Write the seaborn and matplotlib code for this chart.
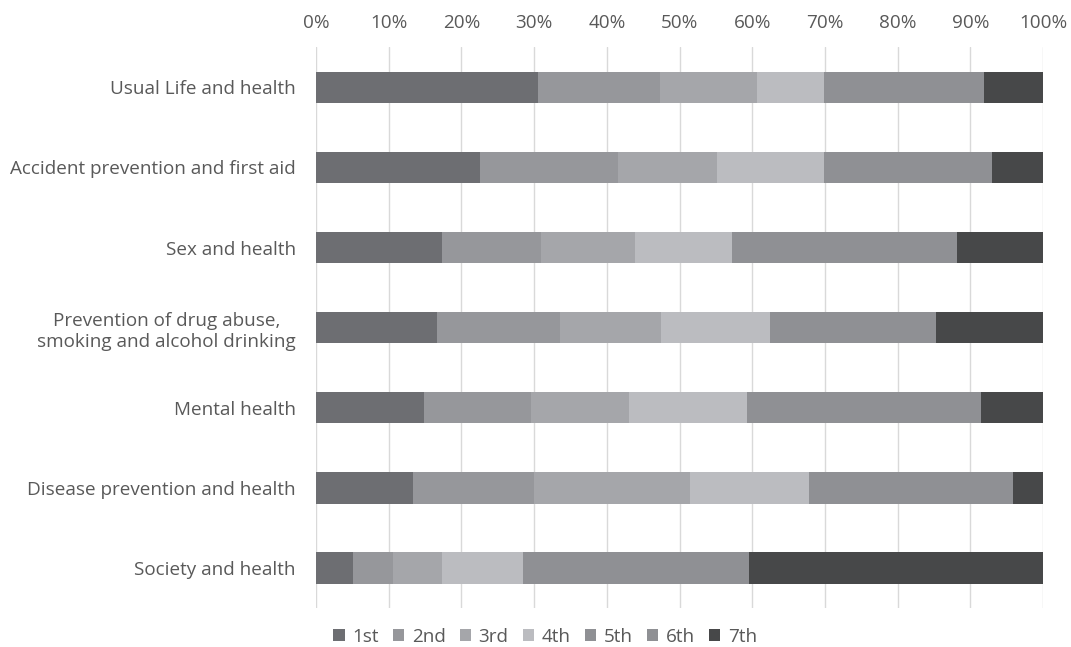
import numpy as np
import pandas as pd
import matplotlib
matplotlib.use("Agg")
import matplotlib.pyplot as plt
from matplotlib.patches import Patch
import seaborn as sns

# Topics (top to bottom) and share of each rank, in percent
topics = [
    "Usual Life and health",
    "Accident prevention and first aid",
    "Sex and health",
    "Prevention of drug abuse,\nsmoking and alcohol drinking",
    "Mental health",
    "Disease prevention and health",
    "Society and health",
]
ranks = ["1st", "2nd", "3rd", "4th", "5th", "6th", "7th"]

rank_1st = [30.6, 22.6, 17.3, 16.7, 14.8, 13.3, 5.1]
rank_2nd = [16.7, 18.9, 13.7, 16.8, 14.8, 16.7, 5.5]
rank_3rd = [13.4, 13.7, 12.9, 14.0, 13.5, 21.5, 6.8]
rank_4th = [9.1, 14.7, 13.3, 14.9, 16.2, 16.3, 11.1]
rank_5th = [10.2, 10.1, 15.5, 11.4, 16.0, 14.0, 11.6]
rank_6th = [11.8, 12.9, 15.4, 11.4, 16.1, 14.1, 19.4]
rank_7th = [8.2, 7.1, 11.9, 14.8, 8.6, 4.1, 40.5]

colors = ["#6d6e72", "#96979b", "#a5a6aa", "#bbbcc0", "#8f9094", "#8f9094", "#474849"]

series = [rank_1st, rank_2nd, rank_3rd, rank_4th, rank_5th, rank_6th, rank_7th]
values = np.array(series, dtype=float)
shares = values / values.sum(axis=0) * 100
cumulative = np.cumsum(shares, axis=0)

df = pd.DataFrame({"topic": topics})
for i, r in enumerate(ranks):
    df[r] = cumulative[i]

sns.set_theme(style="white")
plt.rcParams["font.family"] = ["Open Sans", "DejaVu Sans"]

fs = 13.6
fig = plt.figure(figsize=(10.71, 6.47), dpi=100)
ax = fig.add_axes([0.295, 0.060, 0.679, 0.867])

# Stacked bars: draw the running totals from the last rank backward
for i in range(len(ranks) - 1, -1, -1):
    sns.barplot(data=df, x=ranks[i], y="topic", orient="h", color=colors[i],
                width=0.39, saturation=1, linewidth=0, ax=ax, zorder=2)

ax.set_xlim(0, 100)
ax.set_xticks(np.arange(0, 101, 10))
ax.set_xticklabels([f"{v}%" for v in range(0, 101, 10)])
ax.xaxis.tick_top()
ax.set_xlabel("")
ax.set_ylabel("")
ax.grid(axis="x", color="#d9d9d9", linewidth=1, zorder=0)
ax.set_axisbelow(True)
for s in ax.spines.values():
    s.set_visible(False)

ax.tick_params(axis="x", length=0, pad=11, labelsize=fs, labelcolor="#595959")
ax.tick_params(axis="y", length=0, pad=14.5, labelsize=fs, labelcolor="#595959")
for lbl in ax.get_yticklabels():
    lbl.set_multialignment("center")

handles = [Patch(facecolor=c, edgecolor="none") for c in colors]
fig.legend(handles, ranks, loc="center", bbox_to_anchor=(0.509, 0.016), ncol=7,
           frameon=False, fontsize=fs, labelcolor="#595959",
           handlelength=0.6, handleheight=0.6, handletextpad=0.4, columnspacing=0.75)

fig.savefig("out.png", dpi=100, facecolor="white")
